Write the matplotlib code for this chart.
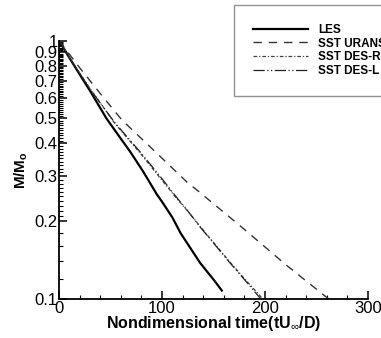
import matplotlib as mpl
mpl.use('Agg')
import matplotlib.pyplot as plt
from matplotlib.ticker import FixedLocator, NullFormatter
import numpy as np

plt.rcParams['font.family'] = ['Liberation Sans', 'DejaVu Sans']
plt.rcParams['mathtext.fontset'] = 'custom'
plt.rcParams['mathtext.rm'] = 'Liberation Sans'
plt.rcParams['mathtext.bf'] = 'Liberation Sans:bold'

# data
t_les = [0, 10, 20, 30, 46, 58, 69, 82, 95, 100, 110, 118, 137, 150, 158]
m_les = [1.0, 0.858, 0.740, 0.640, 0.500, 0.428, 0.372, 0.310, 0.254, 0.238,
         0.207, 0.180, 0.138, 0.119, 0.108]

t_urans = [0, 20, 40, 61, 85, 124, 137, 180, 220, 262]
m_urans = [1.0, 0.785, 0.624, 0.493, 0.400, 0.284, 0.258, 0.186, 0.136, 0.100]

t_desr = [0, 10, 20, 30, 54, 79, 100, 115, 124, 137, 166, 180, 198]
m_desr = [1.0, 0.861, 0.750, 0.653, 0.479, 0.366, 0.288, 0.243, 0.221, 0.191,
          0.139, 0.120, 0.100]

t_desl = [0, 10, 20, 30, 54, 79, 100, 115, 124, 137, 166, 180, 196]
m_desl = [1.0, 0.858, 0.745, 0.650, 0.482, 0.370, 0.292, 0.245, 0.222, 0.190,
          0.138, 0.119, 0.100]

yticks = [0.1, 0.2, 0.3, 0.4, 0.5, 0.6, 0.7, 0.8, 0.9, 1]
ylabels = ['0.1', '0.2', '0.3', '0.4', '0.5', '0.6', '0.7', '0.8', '0.9', '1']
xticks = [0, 100, 200, 300]

fig = plt.figure(figsize=(3.81, 3.38), dpi=100)
ax = fig.add_axes([0.155, 0.115, 0.811, 0.765])

ax.plot(t_les, m_les, color='black', lw=1.6, label='LES')
ax.plot(t_urans, m_urans, color='#333333', lw=1.0, ls=(0, (6, 5)), label='SST URANS')
ax.plot(t_desr, m_desr, color='#444444', lw=0.9, ls=(0, (3, 1.5, 1, 1.5)), label='SST DES-R')
ax.plot(t_desl, m_desl, color='#222222', lw=0.9, ls=(0, (9, 2, 1, 2, 1, 2)), label='SST DES-L')

ax.set_yscale('log')
ax.set_xlim(0, 300)
ax.set_ylim(0.1, 1)
ax.set_xticks(xticks)
ax.xaxis.set_minor_locator(FixedLocator(np.arange(0, 301, 20)))
ax.set_yticks(yticks)
ax.set_yticklabels(ylabels)
ymin = list(np.arange(0.12, 0.2, 0.02)) + list(np.arange(0.21, 1.0, 0.01))
ax.yaxis.set_minor_locator(FixedLocator(ymin))
ax.yaxis.set_minor_formatter(NullFormatter())

for s in ['top', 'right']:
    ax.spines[s].set_visible(False)
for s in ['left', 'bottom']:
    ax.spines[s].set_linewidth(1.3)

ax.tick_params(which='major', direction='in', length=6, width=1.1, labelsize=12, pad=1)
ax.tick_params(which='minor', direction='in', length=3, width=0.8)

ax.set_xlabel(r'Nondimensional time(tU$_{\infty}$/D)', fontsize=11.5, fontweight='bold', labelpad=-1)
ax.set_ylabel(r'$\mathbf{M/M_o}$', fontsize=11, labelpad=3)

leg = ax.legend(loc='upper left', bbox_to_anchor=(234 / 381, 1 - 5 / 338),
                bbox_transform=fig.transFigure, frameon=True, fancybox=False,
                prop={'weight': 'bold', 'size': 8.5}, handlelength=4.7,
                handletextpad=0.8, labelspacing=0.14, borderpad=1.6,
                borderaxespad=0)
leg.get_frame().set_edgecolor('#777777')
leg.get_frame().set_linewidth(1.0)

plt.savefig('out.png', dpi=100)
